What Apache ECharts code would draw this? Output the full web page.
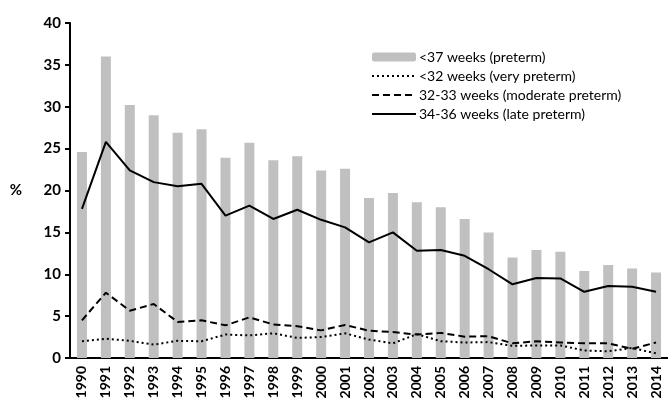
<!DOCTYPE html>
<html>
<head>
<meta charset="utf-8">
<script src="https://cdn.jsdelivr.net/npm/echarts@6/dist/echarts.min.js"></script>
<style>
  html, body { margin: 0; padding: 0; background: #fff; }
  #chart { width: 668px; height: 403px; }
</style>
</head>
<body>
<div id="chart"></div>
<script>
const years = ['1990','1991','1992','1993','1994','1995','1996','1997','1998','1999','2000','2001','2002',
  '2003','2004','2005','2006','2007','2008','2009','2010','2011','2012','2013','2014'];
const preterm = [24.6,36.0,30.2,29.0,26.9,27.3,23.9,25.7,23.6,24.1,22.4,22.6,19.1,19.7,18.6,18.0,16.6,15.0,12.0,12.9,12.7,10.4,11.1,10.7,10.2];
const veryPreterm = [2.0,2.3,2.05,1.6,2.05,2.0,2.8,2.7,2.95,2.4,2.5,2.95,2.2,1.75,2.85,2.0,1.85,1.9,1.45,1.5,1.5,0.9,0.8,1.2,0.55];
const moderatePreterm = [4.5,7.8,5.65,6.45,4.3,4.5,3.9,4.85,4.0,3.8,3.3,3.95,3.25,3.1,2.8,3.0,2.55,2.6,1.75,2.0,1.85,1.75,1.75,1.1,1.85];
const latePreterm = [17.8,25.8,22.4,21.0,20.5,20.8,17.0,18.2,16.6,17.7,16.5,15.6,13.8,15.0,12.8,12.9,12.2,10.6,8.8,9.55,9.5,7.9,8.6,8.5,7.9];
const seriesNames = ['<37 weeks (preterm)','<32 weeks (very preterm)','32-33 weeks (moderate preterm)','34-36 weeks (late preterm)'];

const chart = echarts.init(document.getElementById('chart'));
const font = 'Lato, "Open Sans", sans-serif';

function lineSeries(name, data, type) {
  return {
    name: name, type: 'line', data: data, symbol: 'none', z: 3,
    itemStyle: { color: '#000' },
    lineStyle: { color: '#000', width: 2, type: type }
  };
}

chart.setOption({
  animation: false,
  textStyle: { fontFamily: font },
  grid: { left: 70, right: 0, top: 23, bottom: 45, containLabel: false },
  legend: {
    orient: 'vertical', left: 366, top: 45,
    itemWidth: 44, itemHeight: 9, itemGap: 5,
    textStyle: { fontFamily: font, fontSize: 14, color: '#000', padding: [0, 0, 0, -2] },
    data: seriesNames.map((n, i) => i === 0 ? { name: n } : { name: n, itemStyle: { opacity: 0 } })
  },
  xAxis: {
    type: 'category', data: years,
    axisLine: { lineStyle: { color: '#000', width: 2 } },
    axisTick: { interval: 0, length: 5, lineStyle: { color: '#000', width: 2 } },
    axisLabel: { interval: 0, rotate: 90, margin: 8, color: '#000', fontWeight: 'bold', fontSize: 14, fontFamily: font }
  },
  yAxis: {
    type: 'value', min: 0, max: 40, interval: 5,
    name: '%', nameLocation: 'middle', nameRotate: 0, nameGap: 48,
    nameTextStyle: { color: '#000', fontWeight: 'bold', fontSize: 15, fontFamily: font },
    axisLine: { show: true, lineStyle: { color: '#000', width: 2 } },
    axisTick: { show: true, length: 5, lineStyle: { color: '#000', width: 2 } },
    axisLabel: { margin: 9, color: '#000', fontWeight: 'bold', fontSize: 15, fontFamily: font },
    splitLine: { show: false }
  },
  series: [
    { name: seriesNames[0], type: 'bar', data: preterm, barWidth: 10, itemStyle: { color: '#c0c0c0' }, z: 2 },
    lineSeries(seriesNames[1], veryPreterm, [2, 3]),
    lineSeries(seriesNames[2], moderatePreterm, [7, 4]),
    lineSeries(seriesNames[3], latePreterm, 'solid')
  ]
});
</script>
</body>
</html>
